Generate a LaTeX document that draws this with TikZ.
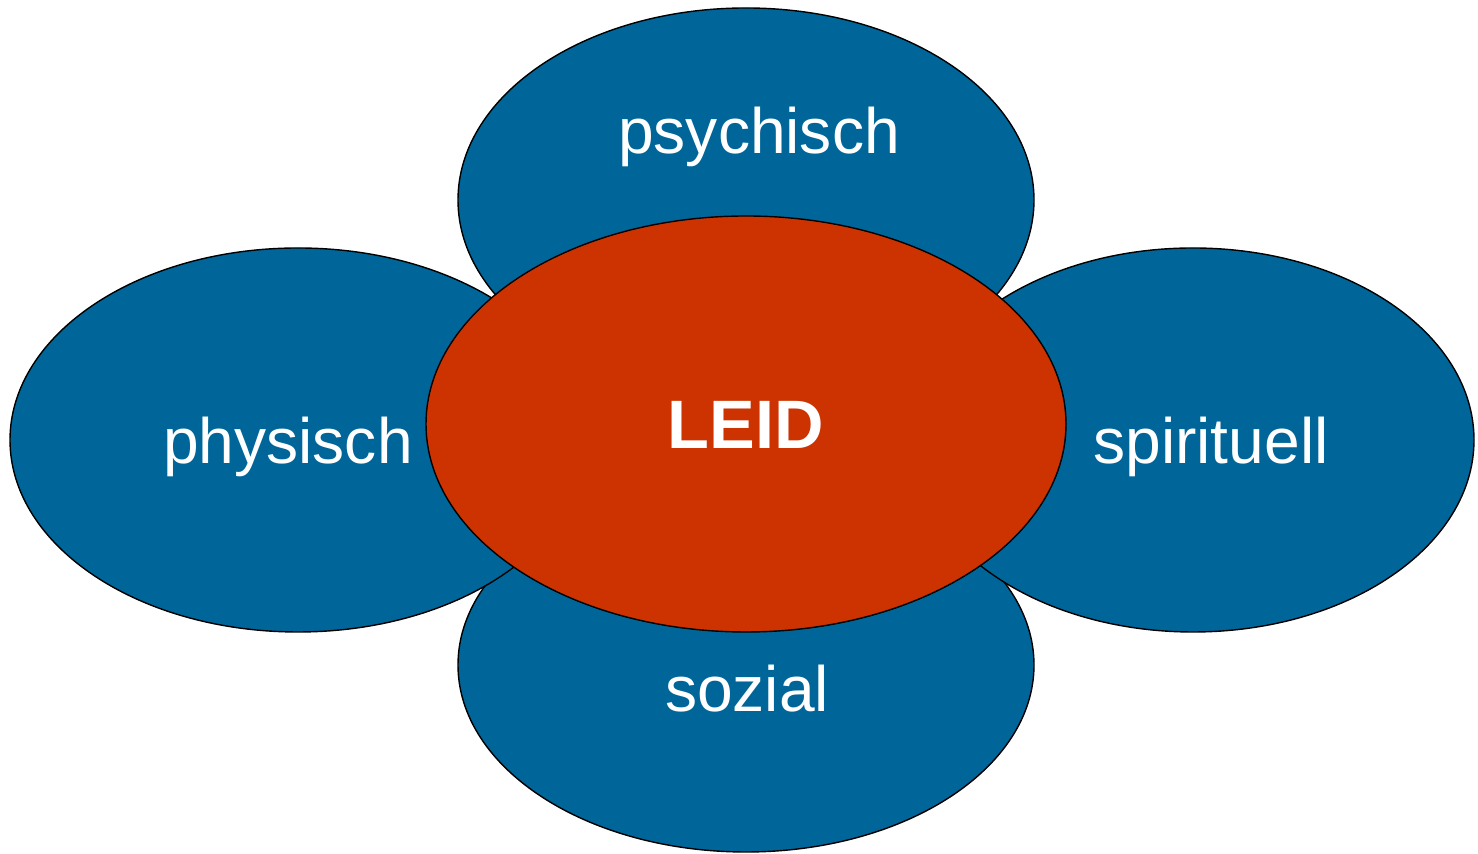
\documentclass[tikz,border=0pt]{standalone}
\usepackage{fontspec}
\setmainfont{Liberation Sans}
\definecolor{petal}{RGB}{0,102,153}
\definecolor{core}{RGB}{204,51,0}

\begin{document}
\begin{tikzpicture}[x=0.02cm, y=0.02cm]
    \tikzset{
        petal/.style={fill=petal, draw=black, line width=0.8pt},
        core/.style={fill=core, draw=black, line width=0.8pt},
        word/.style={text=white, anchor=base, inner sep=0pt, font=\fontsize{36.5}{42}\selectfont}
    }
    \useasboundingbox (0,0) rectangle (1478,854);

    \draw [petal] (746,654) ellipse [x radius=288, y radius=192];
    \draw [petal] (746,189) ellipse [x radius=288, y radius=187];
    \draw [petal] (298,414) ellipse [x radius=288, y radius=192];
    \draw [petal] (1193,414) ellipse [x radius=281, y radius=192];
    \draw [core] (746,430) ellipse [x radius=320, y radius=208];

    \node [word] (psychisch) at (759,700) {psychisch};
    \node [word] (physisch) at (288,390) {physisch};
    \node [word] (spirituell) at (1211,390) {spirituell};
    \node [word] (sozial) at (747,142) {sozial};
    \node [word, font=\fontsize{39}{45}\selectfont\bfseries] (leid) at (746,405) {LEID};
\end{tikzpicture}
\end{document}
